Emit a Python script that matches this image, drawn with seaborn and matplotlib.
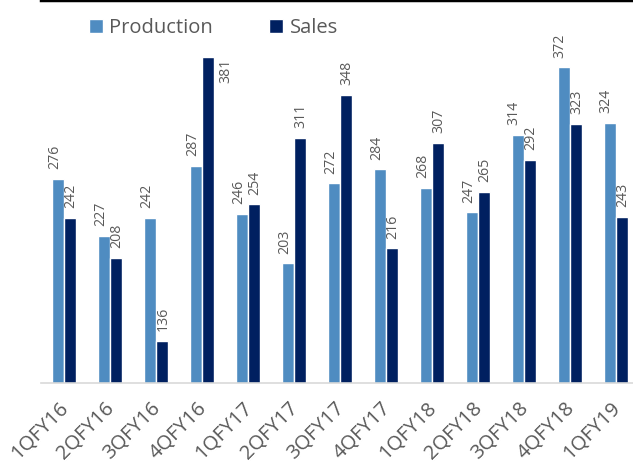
import numpy as np
import pandas as pd
import seaborn as sns
import matplotlib.pyplot as plt
from matplotlib.transforms import ScaledTranslation

quarters = ["1QFY16", "2QFY16", "3QFY16", "4QFY16", "1QFY17", "2QFY17", "3QFY17",
            "4QFY17", "1QFY18", "2QFY18", "3QFY18", "4QFY18", "1QFY19"]
production = [276, 227, 242, 287, 246, 203, 272, 284, 268, 247, 314, 372, 324]
sales = [242, 208, 136, 381, 254, 311, 348, 216, 307, 265, 292, 323, 243]

df = pd.DataFrame({"quarter": quarters * 2,
                   "value": production + sales,
                   "series": ["Production"] * len(quarters) + ["Sales"] * len(quarters)})

sns.set_theme(style="white")
plt.rcParams['font.family'] = ['Open Sans', 'DejaVu Sans']

fig = plt.figure(figsize=(6.33, 4.63), dpi=100)
ax = fig.add_axes([41 / 633, 80 / 463, 598 / 633, 383 / 463])

palette = {"Production": "#4F8CC1", "Sales": "#002060"}
sns.barplot(data=df, x="quarter", y="value", hue="series", palette=palette,
            width=0.54, gap=0.06, saturation=1, ax=ax, legend=True)

ymin, ymax = 100, 430
ax.set_ylim(ymin, ymax)
ax.set_xlim(-0.5, len(quarters) - 0.5)

# value labels, rotated; put beside the bar when there is no room above
grey = "#595959"
for i, cont in enumerate(ax.containers):
    dx = -2.5 if i == 0 else 0.5
    for bar in cont:
        h = bar.get_height()
        xc = bar.get_x() + bar.get_width() / 2
        if h > ymax - 52:
            ax.annotate(f"{h:.0f}", (bar.get_x() + bar.get_width(), h), xytext=(3, -1),
                        textcoords="offset points", rotation=90, ha="left", va="top",
                        fontsize=10.2, color=grey)
        else:
            ax.annotate(f"{h:.0f}", (xc, h), xytext=(dx, 7), textcoords="offset points",
                        rotation=90, ha="center", va="bottom", fontsize=10.2, color=grey)

for s in ["left", "right"]:
    ax.spines[s].set_visible(False)
ax.spines["top"].set_color("black")
ax.spines["top"].set_linewidth(2.5)
ax.spines["bottom"].set_color("#D9D9D9")
ax.spines["bottom"].set_linewidth(1.2)
ax.set_yticks([])
ax.set_xlabel("")
ax.set_ylabel("")
ax.tick_params(axis="x", length=0, pad=4)
shift = ScaledTranslation(-4 / 72, -7 / 72, fig.dpi_scale_trans)
for lbl in ax.get_xticklabels():
    lbl.set_rotation(45)
    lbl.set_ha("right")
    lbl.set_rotation_mode("anchor")
    lbl.set_fontsize(14.5)
    lbl.set_color(grey)
    lbl.set_transform(lbl.get_transform() + shift)

leg = ax.legend(loc="upper left", bbox_to_anchor=(0.05, 1.0), ncol=2, frameon=False,
                fontsize=14.5, handlelength=0.7, handleheight=0.7, handletextpad=0.3,
                columnspacing=2.8, labelcolor=grey)

fig.savefig("out.png", dpi=100)
